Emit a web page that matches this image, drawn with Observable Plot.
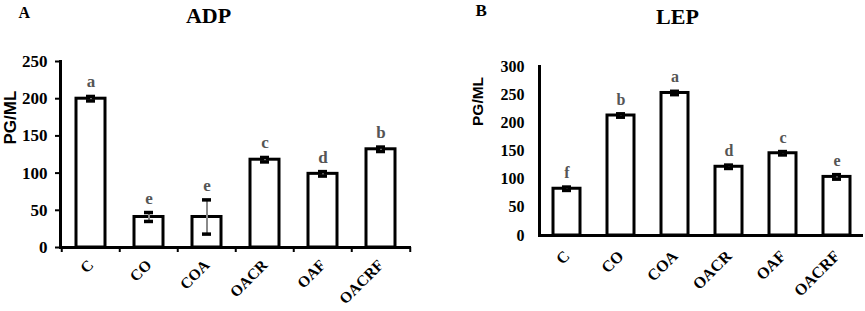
<!DOCTYPE html>
<html>
<head>
<meta charset="utf-8">
<script src="https://cdn.jsdelivr.net/npm/d3@7"></script>
<script src="https://cdn.jsdelivr.net/npm/@observablehq/plot@0.6"></script>
<style>
  html, body { margin: 0; padding: 0; background: #fff; }
  #row { display: flex; width: 865px; }
  #row > svg { flex: none; }
</style>
</head>
<body>
<div id="row"></div>
<script>
const categories = ["C", "CO", "COA", "OACR", "OAF", "OACRF"];

const adpValues  = [200, 41, 41, 118, 99, 132];
const adpErrors  = [3, 6, 23, 3, 3, 3];
const adpLetters = ["a", "e", "e", "c", "d", "b"];
const adpTicks   = [0, 50, 100, 150, 200, 250];

const lepValues  = [83, 213, 253, 122, 146, 104];
const lepErrors  = [3, 3, 3, 3, 3, 4];
const lepLetters = ["f", "b", "a", "d", "c", "e"];
const lepTicks   = [0, 50, 100, 150, 200, 250, 300];

const yLabel = "PG/ML";
const panelLetters = ["A", "B"];
const panelTitles = ["ADP", "LEP"];

const serif = "Liberation Serif";

function panel(o) {
  const data = categories.map((c, i) => ({cat: c, v: o.values[i], e: o.errors[i], letter: o.letters[i]}));
  const plotH = o.height - o.marginTop - o.marginBottom;
  const step = (o.width - o.marginLeft - o.marginRight) / categories.length;
  const tickUnits = 5 * o.yMax / plotH;
  const marks = [
    Plot.barY(data, {x: "cat", y: "v", fill: "white", stroke: "black", strokeWidth: 3}),
    Plot.ruleX(data, {x: "cat", y1: d => d.v - d.e, y2: d => d.v + d.e, stroke: "#8a8a8a", strokeWidth: 2}),
    Plot.tickY(data, {x: "cat", y: d => d.v + d.e, stroke: "black", strokeWidth: 3.5, inset: o.capInset}),
    Plot.tickY(data, {x: "cat", y: d => d.v - d.e, stroke: "black", strokeWidth: 3.5, inset: o.capInset}),
    Plot.text(data, {x: "cat", y: d => d.v + d.e, text: "letter", dy: -9, lineAnchor: "bottom",
      fill: "#555555", fontSize: o.letterFont, fontWeight: "bold", fontFamily: serif}),
    Plot.axisY({ticks: o.ticks, tickSize: o.yTickSize, tickPadding: o.yTickPadding, strokeWidth: 2,
      tickFormat: d => String(d), label: null, fontSize: o.tickFont, fontFamily: serif, fontWeight: "bold"}),
    Plot.text(categories, {x: d => d, frameAnchor: "bottom", rotate: -45, textAnchor: "end", lineAnchor: "middle",
      dy: o.xDy, dx: 0, fontSize: o.xFont, fontFamily: serif, fontWeight: "bold", fill: "black"}),
    Plot.frame({anchor: "left", strokeWidth: 3}),
    Plot.ruleY([0], {strokeWidth: 3}),
    Plot.text([yLabel], {frameAnchor: "left", rotate: -90, dx: o.labelDx, dy: o.labelDy,
      fontFamily: "Liberation Sans", fontWeight: "bold", fontSize: o.labelSize, fill: "black"}),
    Plot.text([o.panelLetter], {frameAnchor: "top-left", textAnchor: "start", lineAnchor: "middle",
      dx: o.letterX - o.marginLeft, dy: o.letterY - o.marginTop, fontSize: o.panelLetterFont, fontFamily: serif, fontWeight: "bold", fill: "black"}),
    Plot.text([o.title], {frameAnchor: "top-left", textAnchor: "middle", lineAnchor: "middle",
      dx: o.titleX - o.marginLeft, dy: o.titleY - o.marginTop, fontSize: 22, fontFamily: serif, fontWeight: "bold", fill: "black"})
  ];
  if (o.boundaryTicks) {
    marks.push(Plot.ruleX(categories, {x: d => d, y1: 0, y2: -tickUnits, dx: -step / 2, strokeWidth: 2}));
    marks.push(Plot.ruleX(categories.slice(-1), {x: d => d, y1: 0, y2: -tickUnits, dx: step / 2, strokeWidth: 2}));
  }
  return Plot.plot({
    width: o.width, height: o.height,
    marginLeft: o.marginLeft, marginRight: o.marginRight, marginTop: o.marginTop, marginBottom: o.marginBottom,
    x: {domain: categories, paddingInner: 0.5, paddingOuter: 0.25, label: null, axis: null},
    y: {domain: [0, o.yMax], label: null},
    style: {fontFamily: "'Liberation Serif', serif", fontWeight: "bold", fontSize: "16px", color: "black"},
    marks
  });
}

const row = document.getElementById("row");

row.appendChild(panel({
  values: adpValues, errors: adpErrors, letters: adpLetters, ticks: adpTicks, yMax: 250,
  width: 435, height: 311, marginLeft: 60, marginRight: 24, marginTop: 61, marginBottom: 64,
  yTickSize: 5, yTickPadding: 8, boundaryTicks: true, capInset: 10, tickFont: 17, xFont: 15.5, xDy: 15, letterFont: 17,
  labelDx: -50, labelDy: -10, labelSize: 17,
  panelLetter: panelLetters[0], letterX: 18, letterY: 12, panelLetterFont: 16,
  title: panelTitles[0], titleX: 208, titleY: 15
}));

row.appendChild(panel({
  values: lepValues, errors: lepErrors, letters: lepLetters, ticks: lepTicks, yMax: 300,
  width: 430, height: 311, marginLeft: 104, marginRight: 2, marginTop: 66, marginBottom: 76,
  yTickSize: 0, yTickPadding: 15, boundaryTicks: false, capInset: 9, tickFont: 16, xFont: 16, xDy: 18, letterFont: 16,
  labelDx: -61, labelDy: -25, labelSize: 15.5,
  panelLetter: panelLetters[1], letterX: 40, letterY: 10, panelLetterFont: 17,
  title: panelTitles[1], titleX: 242, titleY: 16
}));
</script>
</body>
</html>
